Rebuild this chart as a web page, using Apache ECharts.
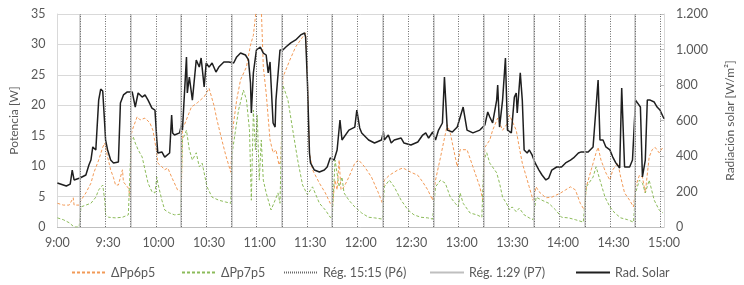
<!DOCTYPE html>
<html>
<head>
<meta charset="utf-8">
<script src="https://cdn.jsdelivr.net/npm/echarts@6/dist/echarts.min.js"></script>
<style>
  html, body { margin: 0; padding: 0; background: #fff; }
  #chart { width: 744px; height: 285px; }
</style>
</head>
<body>
<div id="chart"></div>
<script>
// minutes after 9:00
var xLabels = ['9:00', '9:30', '10:00', '10:30', '11:00', '11:30', '12:00', '12:30', '13:00', '13:30', '14:00', '14:30', '15:00'];
var radLabels = ['0', '200', '400', '600', '800', '1.000', '1.200'];

// Rad. Solar [W/m2]
var radT = [0, 5.3, 7.6, 8.8, 9.9, 13.4, 16.9, 18.7, 19.9, 21.0, 22.8, 24.5, 25.7, 26.9, 28.1, 28.6, 29.8, 31.6, 33.3, 36.2,
  37.4, 39.2, 41.5, 44.4, 46.2, 47.9, 50.3, 52.0, 53.8, 56.1, 57.9, 59.0, 59.6, 62.0, 63.7, 66.6, 67.8, 68.4, 69.5, 72.5,
  73.6, 74.2, 76.6, 77.1, 78.3, 80.1, 82.4, 84.2, 85.3, 87.1, 88.3, 90.0, 91.8, 94.1, 95.8, 98.8, 101.7, 104.6, 106.4, 108.7,
  111.6, 113.4, 114.6, 115.1, 116.3, 118.1, 120.4, 122.2, 123.9, 125.1, 126.2, 126.8, 128.0, 129.2, 129.7, 132.1, 133.8, 135.6, 138.5, 141.4,
  144.4, 146.7, 147.3, 148.4, 149.6, 150.2, 152.5, 155.5, 158.4, 160.1, 161.9, 164.2, 166.0, 167.7, 168.9, 173.0, 176.5, 177.7, 179.4, 180.6,
  184.7, 188.2, 192.3, 193.5, 194.0, 196.4, 198.1, 199.9, 204.0, 205.7, 209.8, 213.9, 216.8, 218.6, 220.3, 222.7, 224.4, 226.2, 228.5, 229.7,
  231.4, 234.4, 237.3, 240.8, 243.1, 246.6, 250.7, 253.7, 255.4, 256.6, 258.3, 260.7, 261.3, 262.4, 264.2, 265.9, 267.1, 269.4, 271.2, 272.3,
  272.9, 274.7, 275.9, 277.0, 278.8, 280.0, 281.7, 283.5, 285.8, 287.6, 289.9, 291.6, 293.4, 296.3, 299.2, 301.6, 304.5, 306.3, 309.2, 310.9,
  315.0, 317.9, 320.9, 322.0, 323.8, 325.5, 327.9, 329.6, 331.4, 333.7, 334.9, 336.6, 339.6, 341.3, 343.1, 344.2, 346.0, 347.2, 348.9, 350.1,
  351.8, 354.2, 355.9, 357.6, 360];
var radV = [248, 231, 242, 321, 265, 276, 293, 349, 377, 451, 434, 715, 777, 766, 575, 490, 434, 377, 361, 366,
  699, 744, 761, 761, 676, 755, 732, 744, 715, 670, 659, 490, 417, 423, 394, 417, 631, 530, 518, 530,
  575, 546, 958, 755, 845, 715, 941, 901, 952, 789, 924, 901, 924, 873, 901, 930, 930, 924, 958, 980,
  969, 941, 811, 642, 868, 997, 1014, 980, 969, 868, 930, 811, 586, 563, 715, 997, 997, 1014, 1037, 1054,
  1082, 1093, 1070, 811, 417, 361, 321, 310, 321, 338, 389, 377, 434, 603, 490, 546, 563, 659, 558, 530,
  490, 473, 490, 535, 490, 518, 473, 490, 501, 473, 462, 479, 518, 530, 501, 535, 490, 546, 586, 845,
  546, 535, 563, 676, 546, 530, 546, 575, 648, 620, 586, 715, 800, 563, 715, 952, 546, 530, 732, 755,
  642, 868, 715, 434, 417, 434, 406, 361, 321, 293, 265, 276, 321, 338, 338, 361, 377, 389, 417, 423,
  423, 451, 828, 490, 490, 451, 434, 394, 361, 332, 783, 338, 338, 377, 715, 715, 676, 282, 377, 715,
  715, 704, 676, 659, 610];

// ΔPp6p5 [W]
var p6T = [0, 3.5, 7.0, 9.4, 9.9, 12.9, 14.0, 16.9, 19.9, 21.6, 24.5, 26.9, 28.1, 29.8, 31.6, 33.3, 34.5, 36.2, 38.6, 39.2,
  42.1, 43.2, 43.8, 44.4, 47.3, 49.1, 52.0, 54.9, 56.7, 59.0, 59.6, 62.0, 63.7, 65.5, 67.8, 71.3, 73.6, 74.2, 75.4, 79.5,
  83.0, 87.1, 90.0, 92.9, 94.7, 97.6, 99.9, 102.9, 104.0, 106.4, 108.7, 112.2, 114.6, 116.3, 118.1, 121.0, 122.2, 123.9, 126.2, 128.0,
  129.7, 131.5, 132.7, 133.8, 137.9, 141.4, 145.5, 147.3, 148.4, 149.6, 151.4, 155.5, 159.0, 161.9, 163.1, 164.8, 166.0, 167.2, 168.3, 170.1,
  173.0, 176.5, 178.8, 182.3, 186.4, 190.5, 192.9, 194.0, 197.0, 202.2, 205.1, 209.8, 213.9, 216.8, 219.8, 222.7, 224.4, 227.4, 229.1, 231.4,
  233.2, 234.9, 237.3, 239.0, 243.1, 246.6, 250.7, 252.5, 253.7, 256.6, 258.3, 261.3, 264.2, 266.5, 268.3, 272.3, 274.1, 275.9, 280.0, 282.3,
  284.1, 285.8, 289.9, 293.4, 298.7, 301.6, 304.5, 307.4, 310.3, 312.7, 313.9, 316.8, 319.7, 320.9, 322.6, 325.5, 327.9, 329.6, 332.6, 334.3,
  336.6, 339.6, 341.9, 343.1, 345.4, 347.2, 348.9, 351.2, 353.0, 354.7, 357.1, 359.4];
var p6V = [3.9, 3.6, 3.6, 4.8, 3.6, 3.6, 4.4, 5.6, 7.2, 8.9, 11.0, 13.1, 13.8, 11.5, 9.4, 8.1, 6.9, 6.9, 9.4, 7.4,
  6.4, 4.9, 15.1, 15.9, 18.1, 17.6, 17.9, 17.1, 15.9, 12.2, 10.5, 9.9, 9.4, 9.7, 8.2, 6.1, 5.8, 16.4, 16.8, 19.7,
  20.4, 21.4, 22.8, 20.0, 17.6, 14.3, 11.8, 9.0, 15.9, 20.9, 24.2, 26.3, 29.9, 31.5, 36, 36, 26.3, 22.0, 14.3, 12.2,
  12.7, 10.2, 11.0, 24.6, 27.4, 29.6, 31.2, 31.9, 24.2, 12.2, 9.4, 7.2, 5.6, 3.9, 3.3, 7.7, 6.1, 11.0, 6.1, 6.6,
  8.2, 10.5, 11.0, 9.9, 8.2, 5.6, 3.9, 7.7, 8.5, 9.4, 9.7, 9.0, 8.5, 7.4, 6.1, 4.4, 7.7, 11.5, 13.8, 16.8,
  15.4, 13.1, 9.9, 12.7, 12.7, 9.9, 6.6, 4.4, 13.1, 14.3, 15.9, 17.9, 15.9, 16.8, 18.4, 15.9, 13.1, 10.5, 6.6, 4.4,
  6.6, 5.8, 4.8, 4.9, 5.6, 6.1, 6.6, 6.1, 3.9, 2.8, 6.6, 9.4, 12.2, 13.1, 11.0, 8.9, 7.7, 9.4, 10.5, 8.2,
  5.6, 4.4, 3.3, 6.6, 8.5, 8.2, 5.6, 11.5, 12.7, 13.1, 12.2, 13.1];

// ΔPp7p5 [W]
var p7T = [0, 3.5, 7.0, 9.9, 12.9, 14.0, 16.9, 19.9, 22.8, 24.5, 26.9, 28.1, 28.6, 30.4, 34.5, 38.6, 42.1, 43.2, 43.8, 45.0,
  46.2, 47.9, 50.3, 52.0, 53.8, 56.1, 57.9, 59.0, 59.6, 62.0, 63.7, 66.6, 69.5, 73.1, 74.2, 76.6, 78.3, 80.1, 82.4, 84.2,
  85.9, 88.8, 91.8, 95.8, 99.9, 102.9, 104.0, 107.5, 110.4, 112.2, 114.0, 115.1, 116.3, 117.5, 118.6, 119.8, 121.0, 122.2, 123.9, 126.8,
  129.2, 130.9, 132.1, 133.8, 136.8, 139.7, 142.6, 145.5, 148.4, 151.4, 155.5, 159.0, 161.9, 163.1, 164.8, 167.2, 168.9, 170.1, 173.0, 176.5,
  180.6, 184.7, 188.2, 192.9, 194.0, 197.0, 199.9, 204.0, 208.1, 211.6, 215.7, 219.8, 222.7, 224.4, 227.4, 230.2, 233.2, 236.1, 237.9, 239.0,
  240.8, 244.9, 248.9, 251.9, 253.1, 254.8, 256.6, 260.7, 262.4, 264.2, 266.5, 268.3, 269.9, 272.3, 274.1, 277.0, 280.0, 282.3, 284.1, 287.6,
  291.6, 295.7, 299.2, 303.3, 307.4, 312.1, 313.9, 315.0, 317.9, 319.7, 322.0, 325.0, 327.9, 330.8, 334.3, 338.4, 341.9, 343.1, 345.4, 347.2,
  348.9, 351.2, 354.2, 357.1, 359.4];
var p7V = [1.5, 1.2, 0.7, 0, 0, 3.3, 3.6, 3.9, 4.9, 6.1, 6.9, 4.4, 2.0, 1.6, 1.5, 1.6, 2.0, 2.0, 14.3, 14.8,
  13.8, 12.7, 11.5, 9.4, 7.2, 5.8, 5.6, 8.2, 7.2, 4.4, 2.8, 2.3, 2.0, 2.1, 14.3, 15.9, 12.7, 11.0, 12.2, 9.9,
  10.5, 6.6, 4.9, 4.4, 4.1, 3.9, 12.7, 19.2, 22.5, 20.9, 15.9, 4.4, 19.2, 12.7, 18.4, 7.7, 14.3, 7.7, 5.6, 2.8,
  4.4, 5.6, 3.9, 23.3, 20.9, 15.9, 11.0, 6.9, 5.3, 6.6, 3.9, 2.8, 1.6, 1.5, 11.0, 6.6, 8.2, 5.6, 4.4, 3.3,
  2.3, 1.6, 1.5, 1.3, 6.6, 7.7, 6.6, 4.4, 2.8, 2.0, 1.6, 1.5, 1.3, 6.6, 7.7, 7.2, 4.9, 3.9, 3.3, 5.6,
  3.9, 2.3, 2.0, 1.6, 11.0, 12.2, 10.5, 8.9, 7.2, 4.9, 3.9, 2.8, 3.3, 2.5, 3.1, 2.0, 1.5, 1.2, 4.9, 4.4,
  3.9, 2.8, 1.6, 1.5, 1.2, 0.8, 6.6, 6.6, 8.2, 9.9, 7.7, 4.9, 3.3, 2.3, 1.5, 1.2, 0.8, 5.6, 7.7, 7.2,
  5.6, 7.7, 4.4, 2.8, 2.3];

// regulation events (minutes after 9:00)
var regP6 = [13.4, 28.2, 43.3, 58.4, 73.5, 88.4, 103.3, 118.2, 133.2, 148.1, 163.1, 178.2,
  193.3, 208.2, 223.2, 238.0, 252.8, 267.8, 282.8, 297.9, 313.0, 327.9, 342.8, 357.8];
var regP7 = [13.4, 43.3, 73.5, 103.3, 133.2, 163.1, 193.3, 223.2, 252.8, 282.8, 313.0, 342.8];

function pairs(t, v) {
  return t.map(function (x, i) { return [x, v[i]]; });
}

var font = 'Lato, "Open Sans", sans-serif';
var txt = { color: '#595959', fontFamily: font, fontSize: 12 };

var chart = echarts.init(document.getElementById('chart'));
chart.setOption({
  animation: false,
  grid: { left: 51, right: 77, top: 14, bottom: 58 },
  legend: [
    { data: ['ΔPp6p5'], left: 66, top: 261 },
    { data: ['ΔPp7p5'], left: 176, top: 261 },
    { data: ['Rég. 15:15 (P6)'], left: 278, top: 261 },
    { data: ['Rég. 1:29 (P7)'], left: 424, top: 261 },
    { data: ['Rad. Solar'], left: 570, top: 261 }
  ].map(function (l) {
    l.itemWidth = 34; l.itemHeight = 10; l.itemGap = 4;
    l.itemStyle = { opacity: 0 };
    l.textStyle = { color: '#595959', fontFamily: font, fontSize: 12.5 };
    return l;
  }),
  xAxis: {
    type: 'value', min: 0, max: 360, interval: 30,
    axisLine: { lineStyle: { color: '#bfbfbf' } },
    axisTick: { show: false },
    splitLine: { show: false },
    axisLabel: Object.assign({ margin: 9, formatter: function (v) { return xLabels[Math.round(v / 30)]; } }, txt, { fontSize: 12.5 })
  },
  yAxis: [{
    type: 'value', min: 0, max: 35, interval: 5,
    name: 'Potencia [W]', nameLocation: 'middle', nameGap: 34, nameRotate: 90,
    nameTextStyle: txt,
    axisLine: { show: true, lineStyle: { color: '#d9d9d9' } },
    axisTick: { show: false },
    splitLine: { lineStyle: { color: '#d9d9d9' } },
    axisLabel: Object.assign({ margin: 12 }, txt, { fontSize: 12.5 })
  }, {
    type: 'value', min: 0, max: 1200, interval: 200,
    name: 'Radiación solar [W/m²]', nameLocation: 'middle', nameGap: 60, nameRotate: 90,
    nameTextStyle: txt,
    axisLine: { show: true, lineStyle: { color: '#d9d9d9' } },
    axisTick: { show: true, length: 4, inside: true, lineStyle: { color: '#bfbfbf' } },
    splitLine: { show: false },
    axisLabel: Object.assign({ margin: 12, formatter: function (v) { return radLabels[Math.round(v / 200)]; } }, txt, { fontSize: 12.5 })
  }],
  series: [{
    name: 'Rég. 1:29 (P7)', type: 'line', data: [], symbol: 'none',
    lineStyle: { color: '#bfbfbf', width: 1 },
    markLine: {
      silent: true, symbol: ['none', 'none'], label: { show: false },
      lineStyle: { color: '#c4c4c4', width: 1.5, type: 'solid' },
      data: regP7.map(function (t) { return { xAxis: t }; })
    }
  }, {
    name: 'Rég. 15:15 (P6)', type: 'line', data: [], symbol: 'none',
    lineStyle: { color: '#6b6b6b', width: 1, type: [1, 1] },
    markLine: {
      silent: true, symbol: ['none', 'none'], label: { show: false },
      lineStyle: { color: '#6b6b6b', width: 1, type: [1, 1.5] },
      data: regP6.map(function (t) { return { xAxis: t }; })
    }
  }, {
    name: 'ΔPp6p5', type: 'line', symbol: 'none', yAxisIndex: 0,
    lineStyle: { color: '#f29a57', width: 1, type: [3, 2] },
    itemStyle: { color: '#f29a57' },
    data: pairs(p6T, p6V)
  }, {
    name: 'ΔPp7p5', type: 'line', symbol: 'none', yAxisIndex: 0,
    lineStyle: { color: '#8cbb5a', width: 1, type: [3, 2] },
    itemStyle: { color: '#8cbb5a' },
    data: pairs(p7T, p7V)
  }, {
    name: 'Rad. Solar', type: 'line', symbol: 'none', yAxisIndex: 1,
    lineStyle: { color: '#1f1f1f', width: 1.5 },
    itemStyle: { color: '#1f1f1f' },
    data: pairs(radT, radV)
  }]
});
</script>
</body>
</html>
